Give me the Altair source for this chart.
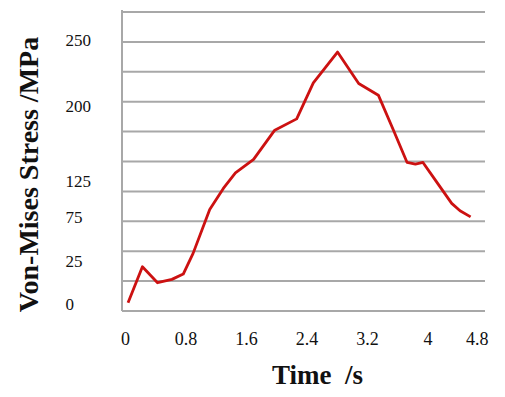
import altair as alt
import pandas as pd

# Data
time_s = [0.04, 0.23, 0.43, 0.62, 0.77, 0.90, 1.12, 1.30, 1.46, 1.70, 1.98, 2.27,
          2.49, 2.81, 3.09, 3.35, 3.55, 3.73, 3.84, 3.94, 4.12, 4.32, 4.43, 4.57]
stress = [7.6, 40.7, 26.0, 29.1, 34.0, 53.0, 93.4, 112.7, 127.0, 139.4, 166.3, 176.7,
          209.8, 238.2, 209.2, 198.5, 166.3, 136.6, 135.0, 136.6, 118.8, 99.0, 92.2, 86.6]

x_ticks = [0, 0.8, 1.6, 2.4, 3.2, 4, 4.8]
y_tick_text = ["0", "25", "75", "125", "200", "250"]
y_tick_pos = [5.8, 45.3, 85.8, 118.8, 187.8, 248.4]
grid_vals = [0, 27.5, 55, 82.5, 110, 137.5, 165, 192.5, 220, 247.5, 275]

W, H = 366, 299
GRID_W = 363

df = pd.DataFrame({"t": time_s, "v": stress})
grid_df = pd.DataFrame({"g": grid_vals})

label_map = "{" + ",".join(f"'{p}':'{t}'" for p, t in zip(y_tick_pos, y_tick_text)) + "}"

yscale = alt.Scale(domain=[0, 275], nice=False, zero=False)
xscale = alt.Scale(domain=[-0.04, 4.8], nice=False, zero=False)

yaxis = alt.Axis(values=y_tick_pos, title="Von-Mises Stress /MPa", grid=False,
                 domain=False, ticks=False, tickSize=0, labelPadding=57,
                 labelAlign="left", labelBaseline="middle",
                 labelFont="Liberation Serif", labelFontSize=17, labelColor="#111",
                 labelExpr=label_map + "[toString(datum.value)]",
                 titleFont="Liberation Serif", titleFontSize=28, titleFontWeight="bold",
                 titleColor="#111", titleX=-85, titleY=162, titleAngle=270,
                 titleBaseline="alphabetic", titleAlign="center")

xaxis = alt.Axis(values=x_ticks, title="Time\u00a0\u00a0/s", grid=False, domain=False,
                 ticks=False, tickSize=0, labelPadding=28, labelBaseline="middle",
                 labelFont="Liberation Serif", labelFontSize=18, labelColor="#111",
                 titleFont="Liberation Serif", titleFontSize=27, titleFontWeight="bold",
                 titleColor="#111", titleX=195, titleY=72, titleBaseline="alphabetic",
                 titleAlign="center",
                 labelExpr="datum.value == 0 ? '0' : datum.value == 4 ? '4' : format(datum.value, '.1f')")

grid = alt.Chart(grid_df).mark_rule(color="#a8a8a8", strokeWidth=2).encode(
    y=alt.Y("g:Q", scale=yscale, axis=yaxis),
    x=alt.value(0),
    x2=alt.value(GRID_W),
)

border = alt.Chart(grid_df).mark_rule(color="#a8a8a8", strokeWidth=2).encode(
    x=alt.value(0),
    y=alt.value(-2),
    y2=alt.value(H),
)

line = alt.Chart(df).mark_line(color="#cc1111", strokeWidth=2.8, strokeJoin="round").encode(
    x=alt.X("t:Q", scale=xscale, axis=xaxis),
    y=alt.Y("v:Q", scale=yscale, axis=yaxis),
)

chart = alt.layer(grid, border, line).properties(
    width=W, height=H,
    autosize=alt.AutoSizeParams(type="none"),
    padding={"left": 114, "top": 4, "right": 9, "bottom": 78},
    background="white",
).configure_view(stroke=None)

chart.save("out.html", embed_options={"renderer": "svg", "actions": False})
